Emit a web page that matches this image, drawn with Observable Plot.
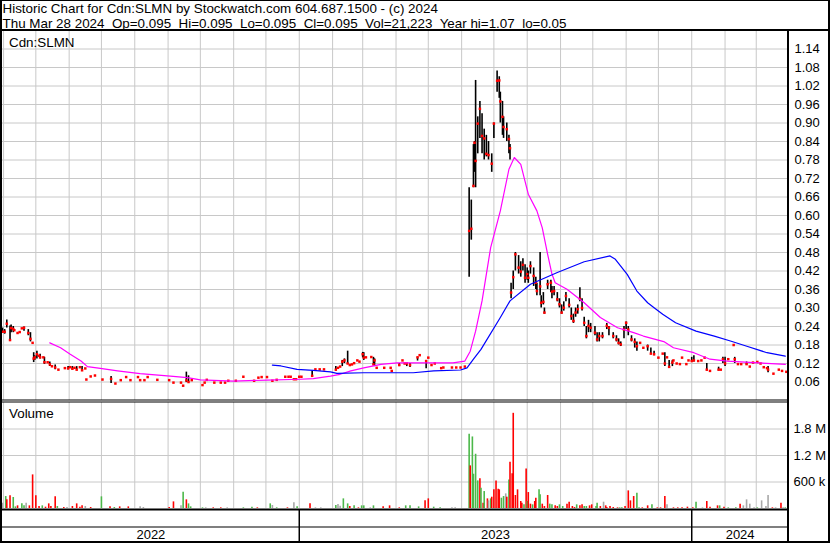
<!DOCTYPE html>
<html>
<head>
<meta charset="utf-8">
<script src="https://cdn.jsdelivr.net/npm/d3@7"></script>
<script src="https://cdn.jsdelivr.net/npm/@observablehq/plot@0.6"></script>
<style>
  body { margin: 0; background: #fff; }
  #frame { position: relative; width: 830px; height: 543px; overflow: hidden; background: #fff;
           font-family: Arial, "Liberation Sans", sans-serif; }
  .panel { position: absolute; left: 0; }
  #overlay { position: absolute; left: 0; top: 0; pointer-events: none; }
  #overlay text { font-family: Arial, "Liberation Sans", sans-serif; white-space: pre; fill: #000; }
</style>
</head>
<body>
<div id="frame">
  <div class="panel" id="pricePanel" style="top:30px"></div>
  <div class="panel" id="volPanel" style="top:402px"></div>
  <div class="panel" id="axisPanel" style="top:509px"></div>
  <svg id="overlay" width="830" height="543"></svg>
</div>
<script>
// ---------- DATA ----------
const headerLine1 = "Historic Chart for Cdn:SLMN by Stockwatch.com 604.687.1500 - (c) 2024";
const headerLine2 = "Thu Mar 28 2024  Op=0.095  Hi=0.095  Lo=0.095  Cl=0.095  Vol=21,223  Year hi=1.07  lo=0.05";
const symbolLabel = "Cdn:SLMN";
const volumeLabel = "Volume";

const startDate = "2022-03-31";
const endDate = "2024-03-31";

// days after startDate
const priceDays = [0,2,4,7,8,10,11,14,16,18,20,24,26,28,29,30,32,34,35,38,39,42,44,46,49,52,58,61,63,65,67,69,72,74,77,78,82,86,93,101,105,110,115,119,126,128,132,135,144,155,159,166,168,171,173,176,186,188,190,197,203,207,210,217,224,234,238,241,246,251,255,263,266,268,271,273,276,278,288,291,295,299,310,312,314,316,318,321,323,325,327,330,332,335,336,338,343,345,346,348,355,361,362,369,372,374,376,379,386,388,394,396,399,402,408,410,418,422,426,430,434,436,438,439,440,442,444,446,448,450,452,455,457,460,462,463,465,466,469,471,472,473,475,477,480,482,484,486,488,489,491,494,496,497,500,501,503,504,507,510,511,513,516,518,520,522,524,527,529,531,533,535,537,539,541,543,545,547,551,553,555,558,562,564,568,571,573,575,578,580,582,585,588,590,593,596,600,603,606,610,614,616,618,620,623,624,627,630,632,636,638,641,643,647,650,653,655,658,666,668,670,672,675,680,681,684,687,692,695,698,702,705,708,711,712,717,722,725,729];
const priceLow = [.22,.215,.235,.196,.22,.22,null,null,null,null,.225,.21,.19,null,.123,.13,.135,null,.135,null,.117,null,.11,null,.1,null,null,.1,null,.1,null,.1,null,.095,null,null,null,null,null,.055,null,null,null,null,null,null,null,null,null,null,null,null,null,.058,.06,null,null,null,null,null,null,null,null,null,null,null,null,null,null,null,null,null,null,null,null,null,null,null,.08,null,null,null,.096,null,null,.11,.12,.117,null,null,null,null,null,.138,.13,null,null,.115,.11,null,null,null,null,.11,null,null,.11,.107,.128,null,.103,null,null,null,null,null,null,null,null,null,.40,.52,.69,.74,.69,.80,.85,.80,.78,.79,.78,.74,.85,1.0,.98,.90,.86,.85,.84,.80,.78,.33,.36,.42,.41,.40,.42,.38,.39,.38,.41,.37,.36,.34,.34,.30,.31,.28,.36,.35,.33,.34,.32,.30,.28,.29,.32,.30,.26,.25,.27,.28,.32,.29,.24,.20,.22,.22,.21,.19,.19,.20,.23,.21,.20,.19,.18,.175,.20,.23,.21,.19,.17,.16,null,null,.16,.15,.145,null,null,.11,null,.105,.11,null,null,null,null,null,null,.125,.125,null,null,null,.096,null,.096,null,.12,.11,null,null,.12,null,null,.115,null,null,null,null,null,null,.09,null,null,null,null];
const priceHigh = [.235,.23,.261,.242,.245,.24,null,null,null,null,.238,.23,.22,null,.155,.145,.16,null,.15,null,.14,null,.125,null,.115,null,null,.11,null,.11,null,.11,null,.11,null,null,null,null,null,.078,null,null,null,null,null,null,null,null,null,null,null,null,null,.092,.08,null,null,null,null,null,null,null,null,null,null,null,null,null,null,null,null,null,null,null,null,null,null,null,.096,null,null,null,.11,null,null,.13,.135,.16,null,null,null,null,null,.156,.155,null,null,.14,.135,null,null,null,null,.12,null,null,.12,.12,.14,null,.13,null,null,null,null,null,null,null,null,null,.69,.65,.83,.84,1.038,.92,.97,.93,.88,.86,.84,.80,.90,1.069,1.05,1.0,.97,.92,.90,.86,.83,.38,.42,.48,.47,.45,.46,.44,.43,.42,.45,.43,.40,.38,.48,.34,.35,.30,.39,.39,.37,.37,.35,.33,.31,.32,.35,.33,.30,.28,.30,.31,.366,.33,.27,.24,.26,.25,.24,.22,.22,.22,.25,.24,.22,.21,.20,.19,.24,.255,.24,.21,.20,.19,null,null,.18,.17,.16,null,null,.155,null,.13,.13,null,null,null,null,null,null,.14,.145,null,null,null,.12,null,.108,null,.14,.14,null,null,.14,null,null,.125,null,null,null,null,null,null,.11,null,null,null,null];
const priceClose = [.223,.223,.249,.196,.235,.232,.228,.219,.222,.234,.236,.219,.2,.187,.136,.14,.15,.145,.14,.14,.124,.124,.117,.111,.107,.1,.105,.104,.108,.103,.106,.1,.108,.098,.104,.068,.078,.081,.068,.07,.055,.066,.076,.066,.076,.066,.066,.076,.067,.066,.058,.058,.048,.065,.06,.066,.05,.058,.067,.058,.058,.058,.064,.064,.077,.064,.074,.076,.076,.064,.067,.077,.077,.077,.069,.069,.077,.077,.08,.101,.101,.101,.1,.106,.11,.126,.13,.12,.115,.117,.121,.13,.126,.15,.139,.14,.141,.117,.13,.106,.106,.106,.096,.115,.13,.12,.12,.115,.14,.147,.128,.139,.115,.12,.105,.107,.107,.107,.107,.11,.55,.557,.696,.836,.777,.898,.946,.858,.85,.80,.796,.768,.898,1.037,1.038,.97,.92,.887,.88,.848,.818,.35,.40,.474,.431,.418,.44,.398,.41,.398,.436,.404,.382,.355,.37,.317,.32,.285,.377,.382,.353,.355,.328,.312,.285,.301,.339,.31,.274,.258,.285,.296,.33,.30,.252,.209,.242,.236,.22,.198,.209,.209,.242,.236,.209,.198,.187,.182,.23,.252,.23,.198,.19,.176,.187,.171,.176,.152,.15,.139,.152,.12,.14,.109,.123,.13,.12,.118,.139,.118,.13,.128,.13,.128,.13,.139,.1,.096,.1,.1,.134,.12,.134,.18,.134,.118,.118,.118,.11,.123,.125,.12,.108,.105,.1,.087,.1,.096,.093];

// moving averages (vertices)
const shortMADays = [44,54,63,73,79,91,107,128,156,172,184,215,246,277,289,305,314,324,336,352,367,398,419,430,435,440,446,454,463,471,476,482,489,497,502,507,511,514,525,541,556,572,587,596,615,624,643,658,674,699,728];
const shortMAValues = [.187,.171,.15,.128,.11,.104,.096,.087,.079,.074,.067,.063,.066,.069,.071,.079,.085,.096,.106,.117,.122,.122,.122,.128,.16,.225,.323,.496,.615,.75,.788,.766,.669,.615,.56,.474,.41,.382,.361,.317,.269,.236,.22,.209,.191,.171,.155,.134,.128,.123,.117];
const longMADays = [251,259,274,289,305,311,336,382,401,426,432,438,445,463,472,491,516,541,565,570,581,590,600,606,614,626,645,662,677,693,711,728];
const longMAValues = [.115,.112,.101,.098,.093,.088,.09,.09,.096,.099,.106,.134,.166,.269,.323,.377,.415,.45,.469,.458,.409,.355,.317,.301,.28,.252,.225,.209,.193,.175,.155,.144];

// daily volume (thousands of shares), direction u = up, d = down, n = unchanged
const volDays = [0,3,4,7,10,12,14,18,20,22,25,28,31,34,37,40,43,45,49,51,57,60,65,69,72,74,77,82,92,100,104,109,117,128,131,155,159,166,168,171,173,175,186,189,196,203,209,224,232,237,249,251,255,265,271,274,286,291,296,310,312,314,317,321,323,327,331,334,336,342,345,354,360,369,375,379,387,393,396,401,407,418,421,434,435,437,438,440,442,444,445,447,448,451,452,454,455,457,459,461,462,464,466,468,469,471,472,474,475,477,479,482,483,485,487,488,489,491,493,495,496,499,500,502,504,507,509,511,514,516,518,521,525,527,530,532,534,537,539,541,543,546,548,552,553,556,559,561,562,565,568,572,574,576,579,582,584,587,590,592,595,600,604,609,612,616,618,624,628,632,637,642,645,651,655,658,665,667,671,675,682,686,689,692,695,699,702,706,710,712,716,719,724,726,728];
const volK = [120,271,196,286,249,37,60,105,60,120,60,761,286,45,60,30,105,45,264,45,22,22,45,105,30,60,45,22,264,37,22,37,37,37,22,22,150,60,369,196,105,37,15,15,15,15,15,15,30,15,105,68,15,15,128,37,105,15,15,68,90,52,218,105,45,60,15,60,60,15,60,37,60,15,60,60,37,173,218,30,15,15,15,1680,965,1620,776,1228,625,671,460,120,384,218,173,218,256,422,625,437,422,233,271,331,256,648,1047,784,2155,294,422,158,120,83,897,158,361,98,83,158,233,422,309,98,45,294,98,83,60,45,83,45,98,143,45,22,83,60,83,45,45,60,83,45,120,45,143,60,22,45,22,15,15,15,45,399,173,271,347,15,15,60,83,15,15,271,83,15,15,15,30,15,143,15,158,30,60,60,30,15,15,98,60,196,98,15,15,173,45,294,15,15,120,15,15];
const volDir = "nudduuduundddduddddudnddddndududdnnddnuduuunddnuudunudnudnnunnuududuunuddduuudduunnuduuuudududnuddddduundudddddddududdudduuddduudduuddddudduudduudnddddduudddduuddudddndddddunddduduudnnnnunnndndnuudnnndnudnddndddnnnndn".split("");

const priceTicks = [0.06,0.12,0.18,0.24,0.30,0.36,0.42,0.48,0.54,0.60,0.66,0.72,0.78,0.84,0.90,0.96,1.02,1.08,1.14];
const volTicks = [600000,1200000,1800000];
const volTickLabels = ["600 k","1.2 M","1.8 M"];
const yearLabels = ["2022","2023","2024"];

// ---------- BUILD ----------
const start = new Date(startDate + "T00:00:00Z");
const end = new Date(endDate + "T00:00:00Z");
const dayDate = d => d3.utcDay.offset(start, d);

const bars = priceDays.map((d, i) => ({
  date: dayDate(d),
  lo: priceLow[i] ?? priceClose[i],
  hi: priceHigh[i] ?? priceClose[i],
  cl: priceClose[i]
}));
const shortMA = shortMADays.map((d, i) => ({date: dayDate(d), v: shortMAValues[i]}));
const longMA = longMADays.map((d, i) => ({date: dayDate(d), v: longMAValues[i]}));
const dirColor = {u: "#4cb84a", d: "#ff0000", n: "#a8a8a8"};
const vols = volDays.map((d, i) => ({date: dayDate(d), v: volK[i] * 1000, c: dirColor[volDir[i]] || "#a8a8a8"}));

const months = d3.utcMonth.range(d3.utcDay.offset(start, 1), end);
const gridColor = "#c8c8c8";
const W = 830, ML = 2, MR = 42;
const style = {background: "transparent", fontFamily: "Arial, 'Liberation Sans', sans-serif", fontSize: "13px", color: "#000", overflow: "visible"};

const pricePlot = Plot.plot({
  width: W, height: 370, marginLeft: ML, marginRight: MR, marginTop: 0, marginBottom: 0,
  style,
  x: {type: "utc", domain: [start, end], axis: null},
  y: {domain: [0, 1.2], axis: null},
  marks: [
    Plot.gridX(months, {stroke: gridColor, strokeOpacity: 1}),
    Plot.gridY(priceTicks, {stroke: gridColor, strokeOpacity: 1}),
    Plot.axisY(priceTicks, {anchor: "right", label: null, tickSize: 0, tickPadding: 6, tickFormat: d => d.toFixed(2), fontSize: 13}),
    Plot.ruleX(bars.filter(d => d.hi > d.lo), {x: "date", y1: "lo", y2: "hi", stroke: "#000", strokeWidth: 1.6}),
    Plot.dot(bars, {x: "date", y: "cl", symbol: "square", r: 1.4, fill: "#ff0000", stroke: null}),
    Plot.line(shortMA, {x: "date", y: "v", stroke: "#ff00ff", strokeWidth: 1.2, curve: "linear"}),
    Plot.line(longMA, {x: "date", y: "v", stroke: "#0000ff", strokeWidth: 1.2, curve: "linear"})
  ]
});
document.getElementById("pricePanel").appendChild(pricePlot);

const volPlot = Plot.plot({
  width: W, height: 106, marginLeft: ML, marginRight: MR, marginTop: 0, marginBottom: 0,
  style,
  x: {type: "utc", domain: [start, end], axis: null},
  y: {domain: [0, 2400000], axis: null},
  marks: [
    Plot.gridX(months, {stroke: gridColor, strokeOpacity: 1}),
    Plot.gridY(volTicks, {stroke: gridColor, strokeOpacity: 1}),
    Plot.axisY(volTicks, {anchor: "right", label: null, tickSize: 0, tickPadding: 5, tickFormat: (d, i) => volTickLabels[i], fontSize: 13}),
    Plot.ruleX(vols, {x: "date", y1: 0, y2: "v", stroke: "c", strokeWidth: 1.6})
  ]
});
document.getElementById("volPanel").appendChild(volPlot);

const yearStarts = yearLabels.map(y => new Date(y + "-01-01T00:00:00Z"));
const yearMids = yearLabels.map((y, i) => {
  const a = Math.max(+start, +yearStarts[i]);
  const b = Math.min(+end, +d3.utcYear.offset(yearStarts[i], 1));
  return {label: y, date: new Date((a + b) / 2)};
});
const axisPlot = Plot.plot({
  width: W, height: 33, marginLeft: ML, marginRight: MR, marginTop: 0, marginBottom: 0,
  style,
  x: {type: "utc", domain: [start, end], axis: null},
  y: {domain: [0, 33], range: [0, 33], axis: null},
  marks: [
    Plot.ruleX(yearStarts.filter(d => d > start && d < end), {y1: 0, y2: 33, stroke: "#000", strokeWidth: 1.5}),
    Plot.ruleY([17.5], {stroke: "#000", strokeWidth: 1.2}),
    Plot.text(yearMids, {x: "date", y: 25.5, text: "label", fontSize: 13, fill: "#000"})
  ]
});
document.getElementById("axisPanel").appendChild(axisPlot);

// frame lines and header texts
const ov = d3.select("#overlay");
const rects = [
  [0, 0, 830, 1], [0, 0, 2, 543], [828, 0, 2, 543], [0, 541, 830, 2],
  [0, 29, 830, 2], [787, 29, 2, 514],
  [0, 399.5, 788, 1], [0, 401.5, 788, 1],
  [0, 508.5, 788, 2]
];
ov.selectAll("rect").data(rects).join("rect")
  .attr("x", d => d[0]).attr("y", d => d[1]).attr("width", d => d[2]).attr("height", d => d[3]).attr("fill", "#000");
ov.append("text").attr("x", 2.5).attr("y", 13.3).attr("font-size", 13.4).text(headerLine1);
ov.append("text").attr("x", 2.5).attr("y", 27.7).attr("font-size", 13.4).text(headerLine2);
ov.append("text").attr("x", 9).attr("y", 46.5).attr("font-size", 13.4).text(symbolLabel);
ov.append("text").attr("x", 9).attr("y", 418).attr("font-size", 13.4).text(volumeLabel);
</script>
</body>
</html>
